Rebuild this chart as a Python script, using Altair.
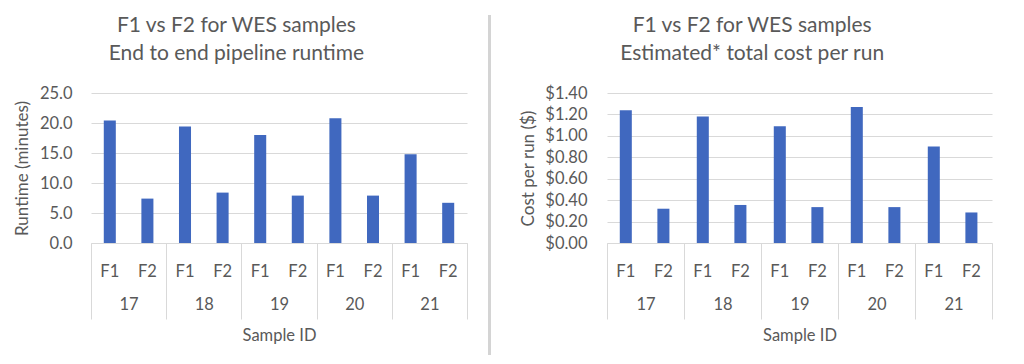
import altair as alt
import pandas as pd

samples = ["17", "18", "19", "20", "21"]
flows = ["F1", "F2"]
runtime_f1 = [20.4, 19.4, 18.0, 20.8, 14.8]
runtime_f2 = [7.4, 8.4, 7.9, 7.9, 6.7]
cost_f1 = [1.24, 1.18, 1.09, 1.27, 0.90]
cost_f2 = [0.32, 0.355, 0.335, 0.335, 0.285]

rows = []
for i, s in enumerate(samples):
    rows.append({"sample": s, "flow": "F1", "runtime": runtime_f1[i], "cost": cost_f1[i]})
    rows.append({"sample": s, "flow": "F2", "runtime": runtime_f2[i], "cost": cost_f2[i]})
df = pd.DataFrame(rows)

FONT = "Lato"
TXT = "#595959"
GRID = "#D9D9D9"
BAR = "#4068BF"
H = 150
LFS = 16.5


def panel(field, w, title_lines, ytitle, ydomain, yvalues, yfmt, lab_pad, ttl_pad):
    xenc = alt.X(
        "sample:N",
        sort=samples,
        scale=alt.Scale(paddingInner=0, paddingOuter=0),
        axis=alt.Axis(
            title="Sample ID",
            labelAngle=0,
            tickBand="extent",
            tickSize=76,
            tickColor=GRID,
            domainColor=GRID,
            labelPadding=-15,
            labelBaseline="middle",
            titlePadding=8,
            labelFontSize=LFS,
            titleFontSize=LFS,
            labelColor=TXT,
            titleColor=TXT,
            titleFontWeight="normal",
            labelFont=FONT,
            titleFont=FONT,
            grid=False,
        ),
    )
    xoff = alt.XOffset("flow:N", sort=flows,
                       scale=alt.Scale(paddingInner=0.68, paddingOuter=0.34))
    bars = alt.Chart(df).mark_bar(color=BAR).encode(
        x=xenc,
        xOffset=xoff,
        y=alt.Y(
            f"{field}:Q",
            scale=alt.Scale(domain=ydomain, nice=False),
            axis=alt.Axis(
                title=ytitle,
                values=yvalues,
                format=yfmt,
                ticks=False,
                domain=False,
                gridColor=GRID,
                labelPadding=lab_pad,
                titlePadding=ttl_pad,
                labelFontSize=LFS,
                titleFontSize=17,
                labelColor=TXT,
                titleColor=TXT,
                titleFontWeight="normal",
                labelFont=FONT,
                titleFont=FONT,
            ),
        ),
    )
    flabels = alt.Chart(df).mark_text(
        font=FONT, fontSize=LFS, color=TXT, baseline="middle", align="center"
    ).encode(
        x=alt.X("sample:N", sort=samples),
        xOffset=xoff,
        y=alt.value(H + 28.5),
        text="flow:N",
    )
    return alt.layer(bars, flabels).properties(
        width=w,
        height=H,
        title=alt.TitleParams(
            text=title_lines,
            fontSize=21,
            lineHeight=28,
            font=FONT,
            color=TXT,
            fontWeight="normal",
            anchor="middle",
            frame="bounds",
            offset=21,
            dx=-4,
        ),
    )


left = panel("runtime", 376,
             ["F1 vs F2 for WES samples", "End to end pipeline runtime"],
             "Runtime (minutes)", [0, 25], [0, 5, 10, 15, 20, 25], ".1f", 19, 8)
right = panel("cost", 385,
              ["F1 vs F2 for WES samples", "Estimated* total cost per run"],
              "Cost per run ($)", [0, 1.4], [0, 0.2, 0.4, 0.6, 0.8, 1.0, 1.2, 1.4], "$.2f", 20, 7)

sep = alt.Chart(pd.DataFrame({"k": [0]})).mark_rule(color="#D4D4D4", strokeWidth=3).encode(
    x=alt.value(0), y=alt.value(-78), y2=alt.value(262)
).properties(width=10, height=H)

chart = alt.hconcat(left, sep, right, spacing=19.5).properties(
    padding={"left": 5, "top": 5, "right": 5, "bottom": 0}
).configure(font=FONT).configure_view(stroke=None)

chart.save("out.html", embed_options={"renderer": "svg", "actions": False})
